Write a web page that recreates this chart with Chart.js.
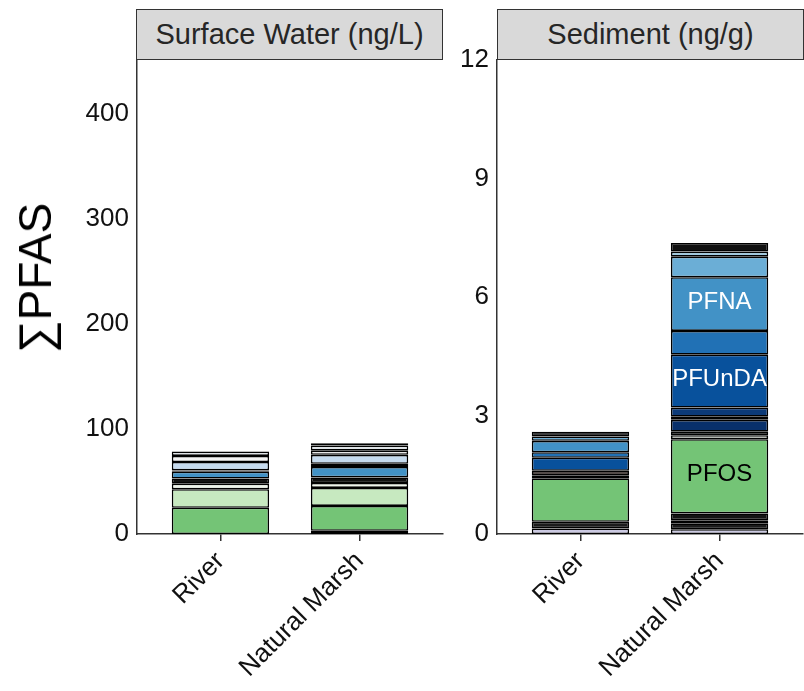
<!DOCTYPE html>
<html><head><meta charset="utf-8">
<script src="https://cdn.jsdelivr.net/npm/chart.js@4.4.1/dist/chart.umd.min.js"></script>
<style>
html,body{margin:0;padding:0;background:#fff;width:804px;height:691px;overflow:hidden;font-family:"Liberation Sans",Arial,sans-serif;}
#wrap{position:relative;width:804px;height:691px;}
canvas{position:absolute;top:0;}
.strip{position:absolute;top:9px;height:51px;box-sizing:border-box;border:1.5px solid #333;background:#d9d9d9;color:#262626;font-size:29px;display:flex;align-items:center;justify-content:center;white-space:nowrap;}
#ytitle{position:absolute;left:35px;top:278px;transform:translate(-50%,-50%) rotate(-90deg);font-size:46px;white-space:nowrap;color:#000;}
</style></head>
<body><div id="wrap">
<canvas id="c1" width="460" height="691" style="left:0px"></canvas>
<canvas id="c2" width="344" height="691" style="left:460px"></canvas>
<div class="strip" style="left:136px;width:307px;">Surface Water (ng/L)</div>
<div class="strip" style="left:497px;width:307px;">Sediment (ng/g)</div>
<div id="ytitle">∑PFAS</div>
</div>
<script>
// ---- data ----
const categories = ['River', 'Natural Marsh'];
const compounds = ['PFBA','PFPeA','PFHxA','PFHpA','PFOS','PFHxS','PFBS','PFPeS','PFHpS','PFTeDA','PFTrDA','PFDoDA','PFUnDA','PFDA','PFNA','PFNS','PFOA','PFDS','FOSA','6:2 FTS','8:2 FTS','N-EtFOSAA'];
const waterRiver = [null, null, null, null, 25.0, 17.6, 5.3, 4.9, null, null, null, null, null, null, 6.5, 1.2, null, null, 8.0, 5.8, 4.2, null];
const waterMarsh = [null, 3.0, null, null, 23.7, 17.1, 4.8, 5.2, null, null, null, null, null, null, 10.0, 3.0, null, null, 8.5, 4.0, 5.0, 2.0];
const sedRiver   = [0.14, 0.17, null, null, 1.10, null, null, 0.08, 0.11, null, null, null, 0.33, 0.14, 0.29, null, 0.11, null, null, null, null, 0.12];
const sedMarsh   = [0.12, 0.15, 0.08, 0.17, 1.88, null, 0.10, 0.09, null, 0.30, 0.08, 0.23, 1.34, 0.60, 1.36, null, 0.52, 0.13, null, null, null, 0.22];
const waterTicks = [0, 100, 200, 300, 400];
const sedTicks = [0, 3, 6, 9, 12];
const sedLabels = ['PFNA', 'PFUnDA', 'PFOS'];

// ---- styles ----
const palette = ['#cbc9e2','#1c1c1c','#6b3426','#141414','#74c476','#c7e9c0','#edf3ea','#111111','#2a1a14','#08306b','#0a1a33','#0c3a78','#08519c','#2171b5','#4292c6','#3a3a3a','#6baed6','#9ecae1','#c6dbef','#f4f4f4','#dfe3e7','#111111'];
const labelColors = {PFNA:'#ffffff', PFUnDA:'#ffffff', PFOS:'#000000'};
const FONT = '"Liberation Sans", Arial, sans-serif';
Chart.defaults.font.family = FONT;

function makeDatasets(a, b) {
  return compounds.map((name, i) => ({
    label: name,
    data: [{x: 1, y: a[i]}, {x: 2, y: b[i]}],
    backgroundColor: palette[i],
    borderColor: '#000',
    borderWidth: 1.6,
    borderSkipped: false,
    barPercentage: 0.7,
    categoryPercentage: 1.0
  }));
}

function makeOptions(yMax, yTicks, yWidth, padRight) {
  return {
    responsive: false,
    animation: false,
    layout: {padding: {top: 60, right: padRight, left: 0, bottom: 0}},
    plugins: {legend: {display: false}, tooltip: {enabled: false}},
    scales: {
      x: {
        type: 'linear', min: 0.4, max: 2.6, stacked: true, offset: false,
        afterBuildTicks: s => { s.ticks = categories.map((c, i) => ({value: i + 1})); },
        afterFit: s => { s.height = 157; },
        ticks: {
          callback: v => categories[v - 1] || '',
          minRotation: 45, maxRotation: 45, autoSkip: false,
          font: {size: 26}, color: '#111', padding: 5
        },
        grid: {display: true, offset: false, drawOnChartArea: false, drawTicks: true, tickLength: 7, color: '#333', lineWidth: 1.5},
        border: {display: true, color: '#333', width: 1.5}
      },
      y: {
        type: 'linear', min: 0, max: yMax, stacked: true,
        afterBuildTicks: s => { s.ticks = yTicks.map(v => ({value: v})); },
        afterFit: s => { s.width = yWidth; },
        ticks: {font: {size: 26}, color: '#111', padding: 8},
        grid: {display: false, drawTicks: false},
        border: {display: true, color: '#333', width: 1.5}
      }
    }
  };
}

const barLabelPlugin = {
  id: 'barLabels',
  afterDatasetsDraw(chart) {
    const ctx = chart.ctx;
    ctx.save();
    ctx.font = '24px ' + FONT;
    ctx.textAlign = 'center';
    ctx.textBaseline = 'middle';
    sedLabels.forEach(name => {
      const i = chart.data.datasets.findIndex(d => d.label === name);
      const el = chart.getDatasetMeta(i).data[1];
      ctx.fillStyle = labelColors[name];
      ctx.fillText(name, el.x, (el.y + el.base) / 2 - 2);
    });
    ctx.restore();
  }
};

new Chart(document.getElementById('c1'), {
  type: 'bar',
  data: {datasets: makeDatasets(waterRiver, waterMarsh)},
  options: makeOptions(451, waterTicks, 137, 17)
});
new Chart(document.getElementById('c2'), {
  type: 'bar',
  data: {datasets: makeDatasets(sedRiver, sedMarsh)},
  options: makeOptions(12, sedTicks, 37, 1),
  plugins: [barLabelPlugin]
});
</script>
</body></html>
